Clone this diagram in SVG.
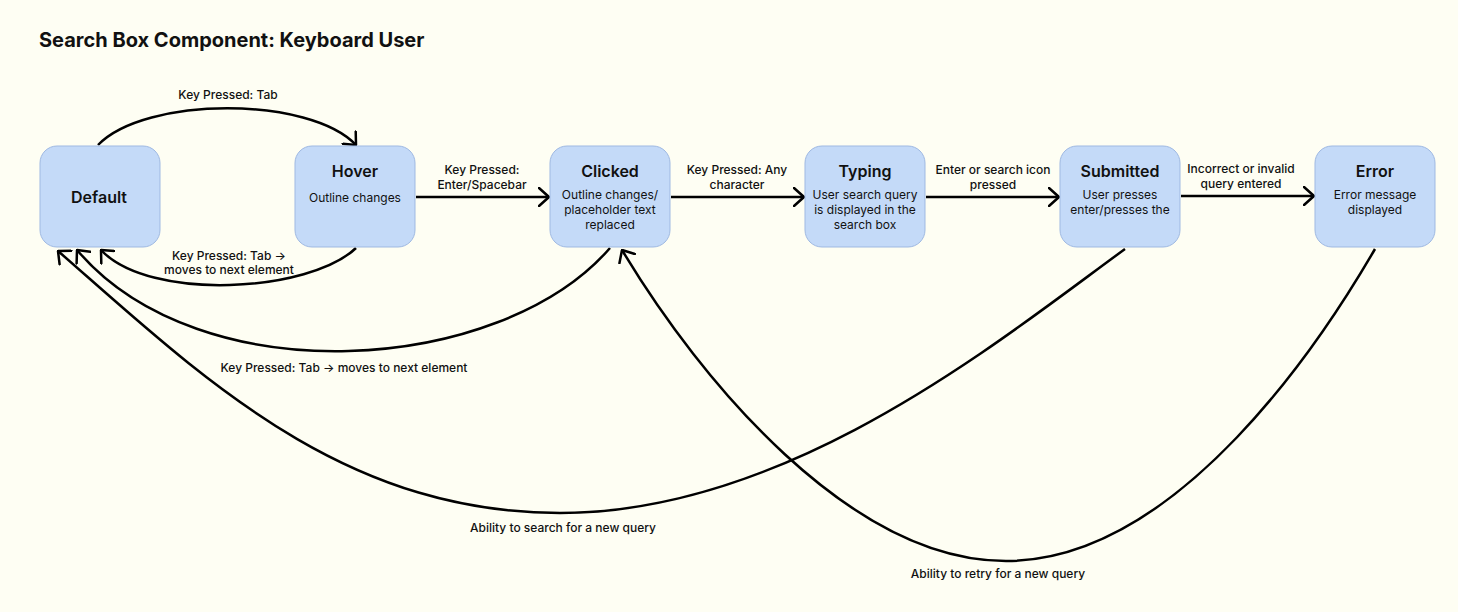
<svg xmlns="http://www.w3.org/2000/svg" width="1458" height="612" viewBox="0 0 1458 612">
<defs>
<style>
.node rect{fill:#c4daf8;stroke:#9fb9e2;stroke-width:1}
.t{font-family:Inter,"Liberation Sans",sans-serif;fill:#111;text-anchor:middle}
.nt{font-size:16px;font-weight:600}
.ns{font-size:12px;font-weight:400}
.el{font-size:12px;font-weight:500}
.edge{fill:none;stroke:#000;stroke-width:2.5;marker-end:url(#arr)}
</style>
<marker id="arr" viewBox="0 0 12 20" refX="11" refY="10" markerWidth="12" markerHeight="20" markerUnits="userSpaceOnUse" orient="auto">
<path d="M1,1 L11,10 L1,19" fill="none" stroke="#000" stroke-width="2.5" stroke-linecap="round" stroke-linejoin="round"/>
</marker>
</defs>
<rect width="1458" height="612" fill="#fefef3"/>
<text x="39" y="47" style="font-family:Inter,'Liberation Sans',sans-serif;font-size:20px;font-weight:700;fill:#111">Search Box Component: Keyboard User</text>

<g id="connectors">
<path class="edge" d="M98,145 C145,96 310,96 356,145"/>
<path class="edge" d="M356,248 C310,292 150,302 101,250"/>
<path class="edge" d="M416,197 L549,197"/>
<path class="edge" d="M671,197 L804,197"/>
<path class="edge" d="M926,197 L1059,197"/>
<path class="edge" d="M1181,196 L1314,196"/>
<path class="edge" d="M610,248 C500,375 200,395 77,250"/>
<path class="edge" d="M1125,249 C1000,340 790,513 560,513 C340,513 200,375 58,251"/>
<path class="edge" d="M1375,249 C1325,335 1180,561 1006,561 C850,561 700,380 622,250"/>
</g>

<g class="t el">
<text x="228" y="99">Key Pressed: Tab</text>
<text x="229" y="260">Key Pressed: Tab →</text>
<text x="229" y="274">moves to next element</text>
<text x="482" y="174">Key Pressed:</text>
<text x="482" y="189">Enter/Spacebar</text>
<text x="737" y="174">Key Pressed: Any</text>
<text x="737" y="189">character</text>
<text x="993" y="174">Enter or search icon</text>
<text x="993" y="189">pressed</text>
<text x="1241" y="173">Incorrect or invalid</text>
<text x="1241" y="188">query entered</text>
<text x="344" y="372">Key Pressed: Tab → moves to next element</text>
<text x="563" y="532">Ability to search for a new query</text>
<text x="998" y="578">Ability to retry for a new query</text>
</g>

<g id="default" class="node"><rect x="40" y="146" width="120" height="101" rx="17"/>
<text class="t nt" x="99" y="203">Default</text></g>
<g id="hover" class="node"><rect x="295" y="146" width="120" height="101" rx="17"/>
<text class="t nt" x="355" y="177">Hover</text>
<text class="t ns" x="355" y="202">Outline changes</text></g>
<g id="clicked" class="node"><rect x="550" y="146" width="120" height="101" rx="17"/>
<text class="t nt" x="610" y="177">Clicked</text>
<text class="t ns" x="610" y="199">Outline changes/</text>
<text class="t ns" x="610" y="214">placeholder text</text>
<text class="t ns" x="610" y="229">replaced</text></g>
<g id="typing" class="node"><rect x="805" y="146" width="120" height="101" rx="17"/>
<text class="t nt" x="865" y="177">Typing</text>
<text class="t ns" x="865" y="199">User search query</text>
<text class="t ns" x="865" y="214">is displayed in the</text>
<text class="t ns" x="865" y="229">search box</text></g>
<g id="submitted" class="node"><rect x="1060" y="146" width="120" height="101" rx="17"/>
<text class="t nt" x="1120" y="177">Submitted</text>
<text class="t ns" x="1120" y="199">User presses</text>
<text class="t ns" x="1120" y="214">enter/presses the</text></g>
<g id="error" class="node"><rect x="1315" y="146" width="120" height="101" rx="17"/>
<text class="t nt" x="1375" y="177">Error</text>
<text class="t ns" x="1375" y="199">Error message</text>
<text class="t ns" x="1375" y="214">displayed</text></g>
</svg>
